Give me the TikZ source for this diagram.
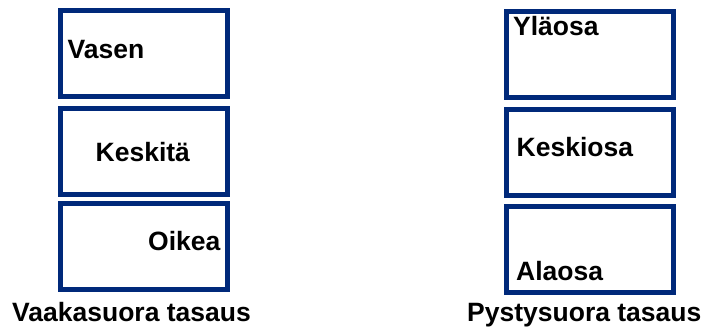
\documentclass[tikz,border=0pt]{standalone}
\usepackage{fontspec}
\setmainfont{Liberation Sans}
\usetikzlibrary{positioning}
\definecolor{frameblue}{RGB}{0,41,122}

\begin{document}
\begin{tikzpicture}[x=1pt, y=-1pt,
            box/.style={draw=frameblue, line width=5.5pt, minimum width=167pt, minimum height=86pt, inner sep=0pt, outer sep=0pt},
            lbl/.style={anchor=base west, inner sep=0pt, font=\fontsize{26.5}{30}\selectfont\bfseries}
        ]
            \useasboundingbox (0,0) rectangle (704,327);

            \node[box] (left) at (144,53.5) {};
            \node[box, below=12pt of left] (center) {};
            \node[box, below=9pt of center] (right) {};

            \node[box] (top) at (590,54.5) {};
            \node[box, below=12pt of top] (middle) {};
            \node[box, below=11pt of middle] (bottom) {};

            \node[lbl] (vasen) at (67.5,58.3) {Vasen};
            \node[lbl] (keskita) at (95.5,161.7) {Keskitä};
            \node[lbl] (oikea) at (148,250) {Oikea};
            \node[lbl] (ylaosa) at (513,35) {Yläosa};
            \node[lbl] (keskiosa) at (516.5,156) {Keskiosa};
            \node[lbl] (alaosa) at (516,280) {Alaosa};

            \node[lbl] (vaaka) at (12,321.5) {Vaakasuora tasaus};
            \node[lbl] (pysty) at (467,321) {Pystysuora tasaus};
        \end{tikzpicture}
\end{document}
